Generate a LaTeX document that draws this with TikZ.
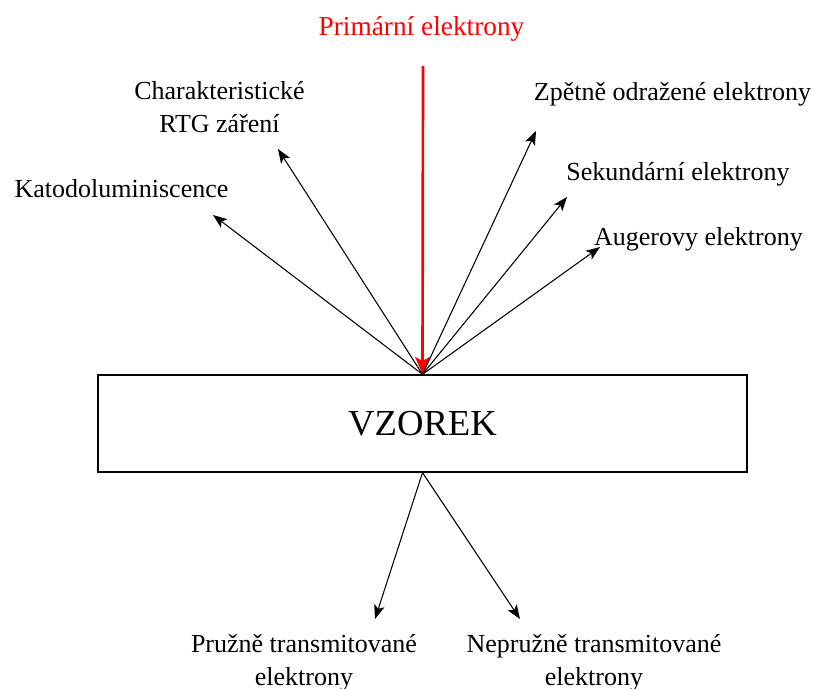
\documentclass[tikz,border=0pt]{standalone}
\usepackage{fontspec}
\setmainfont{Liberation Serif}
\usetikzlibrary{arrows.meta}

\tikzset{
  popis/.style={font=\fontsize{19.5}{24.5}\selectfont, inner sep=0pt, align=center},
  emise/.style={line width=0.8pt, -{Stealth[length=10.5pt, width=8pt, inset=2.5pt]}},
}

\begin{document}
\begin{tikzpicture}[x=0.75pt, y=-0.75pt]
    \useasboundingbox (0,0) rectangle (814,689);

    % Vzorek
    \node[draw, line width=1pt, minimum width=486.75pt, minimum height=72.75pt, inner sep=0pt,
          font=\fontsize{27.5}{33}\selectfont] (vzorek) at (422.5,423.5) {VZOREK};

    % Primarni svazek
    \node[popis, text=red, anchor=base, font=\fontsize{20.5}{24.5}\selectfont] (primar) at (421.5,35) {Primární elektrony};
    \coordinate (zdroj) at (423,66);
    \draw[red, line width=2pt, -{Stealth[length=13pt, width=11pt, inset=3pt]}] (zdroj) -- (vzorek.north);

    % Signaly nad vzorkem
    \node[popis, anchor=base] (katodo) at (121.5,197) {Katodoluminiscence};
    \node[popis] (rtg) at (219.5,107) {Charakteristické\\RTG záření};
    \node[popis, anchor=base] (zpetne) at (672.5,100) {Zpětně odražené elektrony};
    \node[popis, anchor=base] (sekund) at (678,180) {Sekundární elektrony};
    \node[popis, anchor=base] (auger) at (698.5,245) {Augerovy elektrony};

    \coordinate (k-katodo) at (213,215);
    \coordinate (k-rtg) at (278,149);
    \coordinate (k-zpetne) at (536,131);
    \coordinate (k-sekund) at (567,197);
    \coordinate (k-auger) at (600,247);

    \draw[emise] (vzorek.north) -- (k-katodo);
    \draw[emise] (vzorek.north) -- (k-rtg);
    \draw[emise] (vzorek.north) -- (k-zpetne);
    \draw[emise] (vzorek.north) -- (k-sekund);
    \draw[emise] (vzorek.north) -- (k-auger);

    % Prosle elektrony
    \node[popis] (pruzne) at (304,662.5) {Pružně transmitované\\elektrony};
    \node[popis] (nepruzne) at (594,662.5) {Nepružně transmitované\\elektrony};

    \coordinate (k-pruzne) at (375,619);
    \coordinate (k-nepruzne) at (520,619);

    \draw[emise] (vzorek.south) -- (k-pruzne);
    \draw[emise] (vzorek.south) -- (k-nepruzne);
\end{tikzpicture}
\end{document}
